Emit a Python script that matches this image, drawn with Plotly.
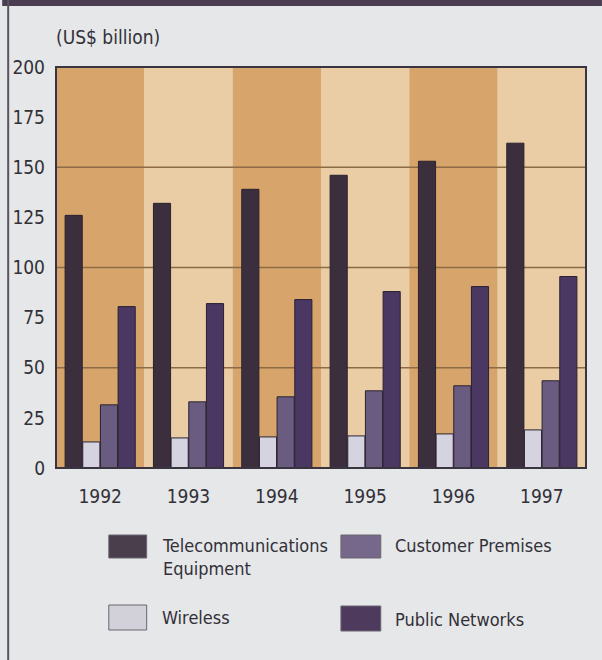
import plotly.graph_objects as go

# Market size by segment, US$ billion
years = ["1992", "1993", "1994", "1995", "1996", "1997"]
telecom_equipment = [126, 132, 139, 146, 153, 162]
wireless = [13, 15, 15.5, 16, 17, 19]
customer_premises = [31.5, 33, 35.5, 38.5, 41, 43.5]
public_networks = [80.5, 82, 84, 88, 90.5, 95.5]

y_ticks = [0, 25, 50, 75, 100, 125, 150, 175, 200]
grid_values = [50, 100, 150]

FONT = "DejaVu Sans Condensed, DejaVu Sans, sans-serif"
TEXT = "#333038"
OUTLINE = "#2a2230"


def font(size):
    return dict(family=FONT, size=size, color=TEXT)


series = [
    ("Telecommunications<br>Equipment", telecom_equipment, "#3b2f3e"),
    ("Wireless", wireless, "#d5d3df"),
    ("Customer Premises", customer_premises, "#6a5c80"),
    ("Public Networks", public_networks, "#4a3762"),
]

fig = go.Figure()
for name, vals, color in series:
    fig.add_trace(go.Bar(
        x=years, y=vals, name=name,
        marker=dict(color=color, line=dict(color=OUTLINE, width=1)),
        showlegend=False,
    ))

shapes = []
# alternating year stripes behind the bars
for i in range(len(years)):
    shapes.append(dict(
        type="rect", xref="x", yref="paper", layer="below",
        x0=i - 0.5, x1=i + 0.5, y0=0, y1=1,
        fillcolor="#d7a56c" if i % 2 == 0 else "#eacca5",
        line=dict(width=0),
    ))
# horizontal rules every 50
for g in grid_values:
    shapes.append(dict(
        type="line", xref="paper", yref="y", layer="below",
        x0=0, x1=1, y0=g, y1=g,
        line=dict(color="#8c6b45", width=1.5),
    ))
# plot frame
shapes.append(dict(
    type="rect", xref="paper", yref="paper", layer="above",
    x0=0, x1=1, y0=0, y1=1, line=dict(color="#3a3440", width=2),
))

# pixel helpers for elements placed outside the plot area
L, R, T, B = 54, 586, 67, 468


def px(x):
    return (x - L) / (R - L)


def py(y):
    return (B - y) / (B - T)


# outer panel: dark top band and thin left rule
shapes.append(dict(type="rect", xref="paper", yref="paper", layer="above",
                   x0=px(0), x1=px(602), y0=py(6), y1=py(0),
                   fillcolor="#4a3d52", line=dict(width=0)))
shapes.append(dict(type="line", xref="paper", yref="paper", layer="above",
                   x0=px(6), x1=px(6), y0=py(660), y1=py(0),
                   line=dict(color="#5a5560", width=2)))

# legend swatches and labels
legend_items = [
    (107, 535, 145, 558, "#4a3d4c", 158, 545, "Telecommunications<br>Equipment"),
    (340, 535, 380, 558, "#76688a", 392, 545, "Customer Premises"),
    (107, 605, 145, 630, "#d2d1da", 158, 617, "Wireless"),
    (340, 606, 380, 631, "#4e3a5c", 392, 619, "Public Networks"),
]
annotations = []
for x0, y0, x1, y1, color, tx, ty, label in legend_items:
    shapes.append(dict(type="rect", xref="paper", yref="paper", layer="above",
                       x0=px(x0), x1=px(x1), y0=py(y1), y1=py(y0),
                       fillcolor=color, line=dict(color="#6a6670", width=1)))
    annotations.append(dict(
        xref="paper", yref="paper", x=px(tx), y=py(ty - 12),
        xanchor="left", yanchor="top", align="left", showarrow=False,
        text=label, font=font(18),
    ))

annotations.append(dict(
    xref="paper", yref="paper", x=px(52), y=py(37),
    xanchor="left", yanchor="middle", showarrow=False,
    text="(US$ billion)", font=font(19),
))

fig.update_layout(
    width=602, height=660,
    margin=dict(l=L, r=602 - R, t=T, b=660 - B, pad=0),
    paper_bgcolor="#e5e7e9",
    plot_bgcolor="#e5e7e9",
    barmode="group", bargap=0.2, bargroupgap=0.03,
    font=font(19),
    shapes=shapes, annotations=annotations,
    xaxis=dict(showgrid=False, showline=False, ticks="",
               ticklabelstandoff=15, tickfont=font(19)),
    yaxis=dict(range=[0, 200], tickvals=y_ticks, showgrid=False,
               zeroline=False, showline=False, ticks="",
               ticklabelstandoff=10, tickfont=font(19)),
)

fig.write_html("out.html")
